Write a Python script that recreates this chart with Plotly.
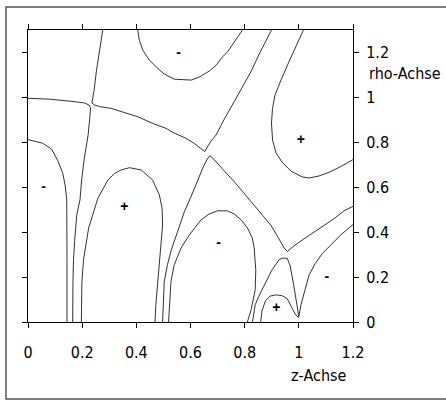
import plotly.graph_objects as go

# Field lines in the (z, rho) half-plane, traced as polylines (z, rho)
line_b_left_a_lower_z = [0.000, 0.080, 0.172, 0.209, 0.225, 0.231, 0.229, 0.222, 0.208, 0.198, 0.192, 0.180, 0.172, 0.168, 0.166, 0.165]
line_b_left_a_lower_rho = [0.996, 0.992, 0.981, 0.975, 0.966, 0.953, 0.921, 0.833, 0.730, 0.632, 0.544, 0.477, 0.358, 0.277, 0.180, 0.000]

line_a_upper_b_right_z = [0.276, 0.264, 0.253, 0.244, 0.238, 0.236, 0.246, 0.264, 0.307, 0.356, 0.405, 0.467, 0.510, 0.540,
                          0.583, 0.614, 0.640, 0.653, 0.662, 0.676, 0.694, 0.725, 0.761, 0.791, 0.823, 0.857, 0.896, 0.899]
line_a_upper_b_right_rho = [1.300, 1.210, 1.121, 1.032, 0.988, 0.975, 0.966, 0.959, 0.951, 0.932, 0.914, 0.881, 0.862, 0.841,
                            0.818, 0.795, 0.772, 0.759, 0.779, 0.806, 0.832, 0.904, 0.980, 1.046, 1.114, 1.201, 1.292, 1.300]

loop_left_z = [0.000, 0.054, 0.087, 0.109, 0.128, 0.137, 0.143, 0.144, 0.144, 0.144]
loop_left_rho = [0.812, 0.796, 0.770, 0.721, 0.664, 0.610, 0.544, 0.432, 0.277, 0.000]

loop_plus_z = [0.197, 0.199, 0.205, 0.211, 0.224, 0.239, 0.258, 0.295, 0.319, 0.344, 0.375, 0.418, 0.460, 0.485,
               0.495, 0.497, 0.489, 0.479, 0.472, 0.469]
loop_plus_rho = [0.000, 0.180, 0.277, 0.329, 0.419, 0.477, 0.551, 0.632, 0.661, 0.677, 0.687, 0.677, 0.632, 0.566,
                 0.507, 0.432, 0.329, 0.180, 0.077, 0.000]

line_c_z = [0.497, 0.500, 0.503, 0.515, 0.529, 0.552, 0.577, 0.603, 0.626, 0.647, 0.662, 0.671, 0.680, 0.706, 0.736,
            0.761, 0.791, 0.823, 0.853, 0.879, 0.896, 0.920, 0.946, 0.958, 0.982, 1.019, 1.056, 1.093, 1.130, 1.167, 1.200]
line_c_rho = [0.000, 0.099, 0.179, 0.255, 0.321, 0.401, 0.490, 0.561, 0.632, 0.690, 0.726, 0.740, 0.732, 0.699, 0.659,
              0.625, 0.583, 0.536, 0.490, 0.455, 0.432, 0.384, 0.329, 0.314, 0.339, 0.370, 0.401, 0.428, 0.460, 0.495, 0.515]

loop_mid_z = [0.519, 0.528, 0.540, 0.565, 0.596, 0.639, 0.669, 0.700, 0.736, 0.761, 0.787, 0.810, 0.828, 0.835,
              0.841, 0.839, 0.824, 0.810]
loop_mid_rho = [0.000, 0.180, 0.255, 0.329, 0.388, 0.455, 0.481, 0.495, 0.495, 0.481, 0.455, 0.419, 0.375, 0.330,
                0.232, 0.144, 0.055, 0.000]

arch_outer_z = [0.829, 0.839, 0.852, 0.876, 0.901, 0.927, 0.938, 0.957, 0.968, 0.979, 0.990, 1.000]
arch_outer_rho = [0.000, 0.077, 0.114, 0.175, 0.232, 0.277, 0.284, 0.284, 0.250, 0.179, 0.099, 0.024]

arch_inner_z = [0.859, 0.864, 0.877, 0.894, 0.916, 0.938, 0.957, 0.971, 0.988, 1.000]
arch_inner_rho = [0.000, 0.050, 0.095, 0.115, 0.121, 0.117, 0.104, 0.072, 0.032, 0.019]

line_cusp_z = [1.000, 1.008, 1.023, 1.038, 1.060, 1.086, 1.119, 1.155, 1.200]
line_cusp_rho = [0.024, 0.077, 0.144, 0.210, 0.259, 0.304, 0.344, 0.388, 0.434]

loop_top_z = [0.405, 0.411, 0.424, 0.448, 0.474, 0.503, 0.540, 0.577, 0.603, 0.632, 0.669, 0.695, 0.717, 0.737, 0.765, 0.792]
loop_top_rho = [1.300, 1.255, 1.210, 1.166, 1.135, 1.104, 1.081, 1.077, 1.077, 1.090, 1.117, 1.143, 1.179, 1.203, 1.250, 1.300]

loop_right_z = [1.017, 0.990, 0.963, 0.934, 0.912, 0.903, 0.899, 0.903, 0.916, 0.938, 0.971, 1.012, 1.038, 1.074,
                1.111, 1.155, 1.200]
loop_right_rho = [1.300, 1.232, 1.157, 1.077, 1.010, 0.952, 0.886, 0.810, 0.752, 0.712, 0.672, 0.646, 0.641, 0.650,
                  0.666, 0.692, 0.723]

# Signs of the regions
sign_z = [0.058, 0.356, 0.556, 1.007, 0.704, 1.103, 0.917]
sign_rho = [0.600, 0.509, 1.194, 0.806, 0.348, 0.198, 0.058]
sign_text = ["-", "+", "-", "+", "-", "-", "+"]

tick_vals = [0, 0.2, 0.4, 0.6, 0.8, 1.0, 1.2]
tick_text = ["0", "0.2", "0.4", "0.6", "0.8", "1", "1.2"]

curves = [
    (line_b_left_a_lower_z, line_b_left_a_lower_rho),
    (line_a_upper_b_right_z, line_a_upper_b_right_rho),
    (loop_left_z, loop_left_rho),
    (loop_plus_z, loop_plus_rho),
    (line_c_z, line_c_rho),
    (loop_mid_z, loop_mid_rho),
    (arch_outer_z, arch_outer_rho),
    (arch_inner_z, arch_inner_rho),
    (line_cusp_z, line_cusp_rho),
    (loop_top_z, loop_top_rho),
    (loop_right_z, loop_right_rho),
]

fig = go.Figure()
for zs, rs in curves:
    fig.add_trace(go.Scatter(x=zs, y=rs, mode="lines", line=dict(color="#333333", width=1),
                             hoverinfo="skip", showlegend=False))

fig.add_trace(go.Scatter(x=sign_z, y=sign_rho, mode="text", text=["<b>%s</b>" % s for s in sign_text],
                         textfont=dict(family="Liberation Sans, Arial", size=14, color="black"),
                         textposition="middle center", showlegend=False, hoverinfo="skip"))

label_font = dict(family="DejaVu Sans Condensed, Liberation Sans", size=16, color="black")

fig.update_layout(
    width=446, height=401,
    margin=dict(l=28, r=93, t=30, b=79),
    paper_bgcolor="white", plot_bgcolor="white",
    xaxis=dict(range=[0, 1.2], tickvals=tick_vals, ticktext=tick_text, showgrid=False, zeroline=False,
               showline=True, linecolor="black", linewidth=1, mirror="ticks", ticks="outside", ticklen=5,
               tickcolor="black", tickfont=label_font, ticklabelstandoff=11),
    yaxis=dict(range=[0, 1.3], side="right", tickvals=tick_vals, ticktext=tick_text, showgrid=False,
               zeroline=False, showline=True, linecolor="black", linewidth=1, mirror="ticks", ticks="outside",
               ticklen=5, tickcolor="black", tickfont=label_font, ticklabelstandoff=4),
    font=label_font,
)

# outer frame
fig.add_shape(type="rect", xref="paper", yref="paper", x0=-0.0677, x1=1.31, y0=-0.2637, y1=1.0788,
              line=dict(color="#555555", width=1.5))

fig.add_annotation(text="rho-Achse", xref="paper", yref="paper", x=(367 - 28) / 325, y=(322 - 73) / 292,
                   xanchor="left", yanchor="middle", showarrow=False, font=label_font)
fig.add_annotation(text="z-Achse", xref="paper", yref="paper", x=(319 - 28) / 325, y=(322 - 375) / 292,
                   xanchor="center", yanchor="middle", showarrow=False, font=label_font)

fig.write_html("out.html")
